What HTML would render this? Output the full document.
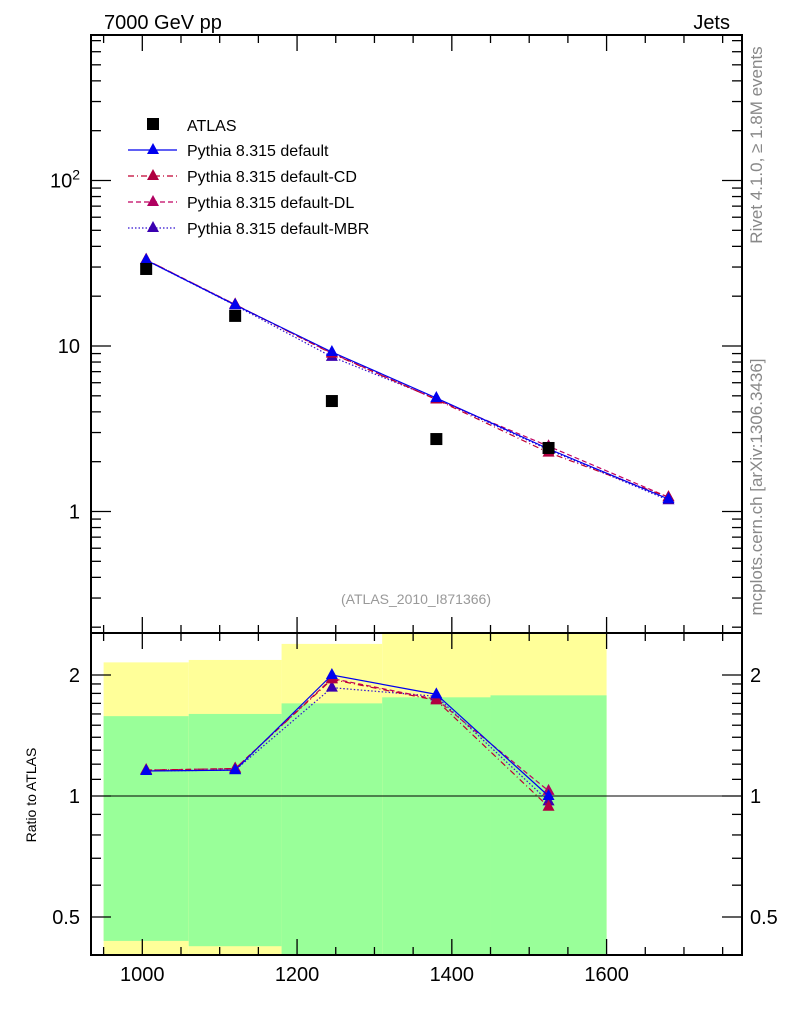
<!DOCTYPE html>
<html><head><meta charset="utf-8"><style>
html,body{margin:0;padding:0;background:#fff;}
svg{display:block;font-family:"Liberation Sans",sans-serif;}
</style></head>
<body>
<svg id="chart" width="786" height="1024" viewBox="0 0 786 1024" xmlns="http://www.w3.org/2000/svg">
<text x="104" y="29" font-size="20">7000 GeV pp</text>
<text x="730" y="29" font-size="20" text-anchor="end">Jets</text>
<text transform="translate(762,145) rotate(-90)" font-size="17" fill="#888" text-anchor="middle">Rivet 4.1.0, ≥ 1.8M events</text>
<text transform="translate(762,487) rotate(-90)" font-size="17" fill="#888" text-anchor="middle">mcplots.cern.ch [arXiv:1306.3436]</text>
<text x="416" y="604" font-size="14" fill="#999" text-anchor="middle">(ATLAS_2010_I871366)</text>
<text transform="translate(36,795) rotate(-90)" font-size="14" text-anchor="middle">Ratio to ATLAS</text>
<g id="bands"></g><g id="marks"></g><g id="axes"></g><g id="legend"></g>
</svg>
<script>
const binEdges=[950,1060,1180,1310,1450,1600];
const yellowHi=[2.15,2.18,2.39,2.7,2.7];
const yellowLo=[0.3,0.3,0.3,0.3,0.3];
const greenHi=[1.58,1.60,1.70,1.76,1.78];
const greenLo=[0.436,0.423,0.38,0.37,0.36];
const dataX=[1005,1120,1245,1380,1525];
const dataY=[29.2,15.2,4.65,2.74,2.42];
const mcX=[1005,1120,1245,1380,1525,1680];
const mcDefault=[33,17.7,9.2,4.85,2.39,1.19];
const mcCD=[33.2,17.8,9.0,4.75,2.27,1.22];
const mcDL=[33.2,17.8,9.05,4.75,2.48,1.22];
const mcMBR=[33,17.6,8.6,4.8,2.36,1.17];
const ratioDefault=[1.154,1.16,2.0,1.79,1.0];
const ratioCD=[1.16,1.17,1.95,1.73,0.94];
const ratioDL=[1.16,1.17,1.96,1.74,1.03];
const ratioMBR=[1.154,1.16,1.86,1.77,0.97];
const seriesNames=["Pythia 8.315 default","Pythia 8.315 default-CD","Pythia 8.315 default-DL","Pythia 8.315 default-MBR"];
const xTicks=[1000,1200,1400,1600];
const mainTickLabels=["1","10","10²"];
const ratioTickVals=[0.5,1,2];

const NS="http://www.w3.org/2000/svg";
const L=91,R=742,T1=35,B1=633,T2=633,B2=955;
const X0=933.7,X1=1775;
function sx(v){return L+(v-X0)/(X1-X0)*(R-L);}
function sy(v){return 511.5-Math.log10(v)*165.5;}
function ry(v){return 796-Math.log2(v)*121;}
function mk(tag,attrs,parent){const e=document.createElementNS(NS,tag);for(const k in attrs)e.setAttribute(k,attrs[k]);parent.appendChild(e);return e;}
const bands=document.getElementById('bands'),marks=document.getElementById('marks'),axes=document.getElementById('axes'),legend=document.getElementById('legend');
function clampR(y){return Math.max(T2,Math.min(B2,y));}
for(let i=0;i<5;i++){
  const x1=sx(binEdges[i]),x2=sx(binEdges[i+1]);
  let y1=clampR(ry(yellowHi[i])),y2=clampR(ry(yellowLo[i]));
  const yb=mk('rect',{x:x1,y:y1,width:x2-x1,height:y2-y1,fill:'#ffff99'},bands);
  
  
  y1=clampR(ry(greenHi[i]));y2=clampR(ry(greenLo[i]));
  const gb=mk('rect',{x:x1,y:y1,width:x2-x1,height:y2-y1,fill:'#99ff99'},bands);
  
  
}
const ref=mk('line',{x1:L,x2:R,y1:ry(1),y2:ry(1),stroke:'#000','stroke-width':1},bands);



const styles=[
 {c:'#0000ee',m:'#0000ee',d:''},
 {c:'#c00030',m:'#b00040',d:'6,3,1,3'},
 {c:'#c00060',m:'#b00060',d:'5,3'},
 {c:'#3010d0',m:'#3a00b0',d:'1.5,2'}];
const mains=[mcDefault,mcCD,mcDL,mcMBR],ratios=[ratioDefault,ratioCD,ratioDL,ratioMBR];
function tri(x,y,col,parent,name){const t=mk('path',{d:`M${x},${y-7}L${x+6},${y+4}L${x-6},${y+4}Z`,fill:col},parent);}
for(let s=3;s>=0;s--){
  const st=styles[s];
  const p=mains[s].map((v,i)=>sx(mcX[i])+','+sy(v)).join(' ');
  const pl=mk('polyline',{points:p,fill:'none',stroke:st.c,'stroke-width':1.2,'stroke-dasharray':st.d},marks);
  
  
  mains[s].forEach((v,i)=>tri(sx(mcX[i]),sy(v),st.m,marks,'main-marker'));
  const p2=ratios[s].map((v,i)=>sx(dataX[i])+','+ry(v)).join(' ');
  const pl2=mk('polyline',{points:p2,fill:'none',stroke:st.c,'stroke-width':1.2,'stroke-dasharray':st.d},marks);
  
  
  ratios[s].forEach((v,i)=>tri(sx(dataX[i]),ry(v),st.m,marks,'ratio-marker'));
}
dataY.forEach((v,i)=>{const r=mk('rect',{x:sx(dataX[i])-6,y:sy(v)-6,width:12,height:12,fill:'#000'},marks);});

[[T1,B1],[T2,B2]].forEach(([t,b],k)=>{const f=mk('rect',{x:L,y:t,width:R-L,height:b-t,fill:'none',stroke:'#000','stroke-width':2},axes);});
for(let v=950;v<=1750;v+=50){
  const x=sx(v),big=v%200===0,len=big?16:8;
  [[T1,1],[B1,-1],[T2,1],[B2,-1]].forEach(([y,d])=>mk('line',{x1:x,x2:x,y1:y,y2:y+d*len,stroke:'#000','stroke-width':1.3},axes));
}
xTicks.forEach(v=>{const t=mk('text',{x:sx(v),y:981,'font-size':20,'text-anchor':'middle'},axes);t.textContent=v;});
for(let e=-1;e<=2;e++)for(let m=1;m<=9;m++){const v=m*Math.pow(10,e),y=sy(v);if(y<T1||y>B1)continue;const len=m===1?20:10;
  mk('line',{x1:L,x2:L+len,y1:y,y2:y,stroke:'#000','stroke-width':1.3},axes);mk('line',{x1:R,x2:R-len,y1:y,y2:y,stroke:'#000','stroke-width':1.3},axes);}
[0,1].forEach(e=>{const t=mk('text',{x:80,y:sy(Math.pow(10,e))+7,'font-size':20,'text-anchor':'end'},axes);t.textContent=mainTickLabels[e];});
{const t=mk('text',{x:80,y:sy(100)+7,'font-size':20,'text-anchor':'end'},axes);t.innerHTML='10<tspan dy="-8" font-size="14">2</tspan>';}
[0.4,0.5,0.6,0.7,0.8,0.9,1,2].concat([1.1,1.2,1.3,1.4,1.5,1.6,1.7,1.8,1.9]).forEach(v=>{const y=ry(v);if(y<T2||y>B2)return;const len=ratioTickVals.includes(v)?20:10;
  mk('line',{x1:L,x2:L+len,y1:y,y2:y,stroke:'#000','stroke-width':1.3},axes);mk('line',{x1:R,x2:R-len,y1:y,y2:y,stroke:'#000','stroke-width':1.3},axes);});
ratioTickVals.forEach(v=>{[[80,'end'],[750,'start']].forEach(([x,a])=>{const t=mk('text',{x:x,y:ry(v)+7,'font-size':20,'text-anchor':a},axes);t.textContent=v;});});
{const r=mk('rect',{x:147,y:118,width:12,height:12,fill:'#000'},legend);
 const t=mk('text',{x:187,y:131,'font-size':16},legend);t.textContent='ATLAS';}
seriesNames.forEach((n,s)=>{const y=150+s*26;const st=styles[s];
  mk('line',{x1:128,x2:177,y1:y,y2:y,stroke:st.c,'stroke-width':1.2,'stroke-dasharray':st.d},legend);
  tri(153,y,st.m,legend,'legend-marker');
  const t=mk('text',{x:187,y:y+6,'font-size':16},legend);t.textContent=n;});
</script>
</body></html>
